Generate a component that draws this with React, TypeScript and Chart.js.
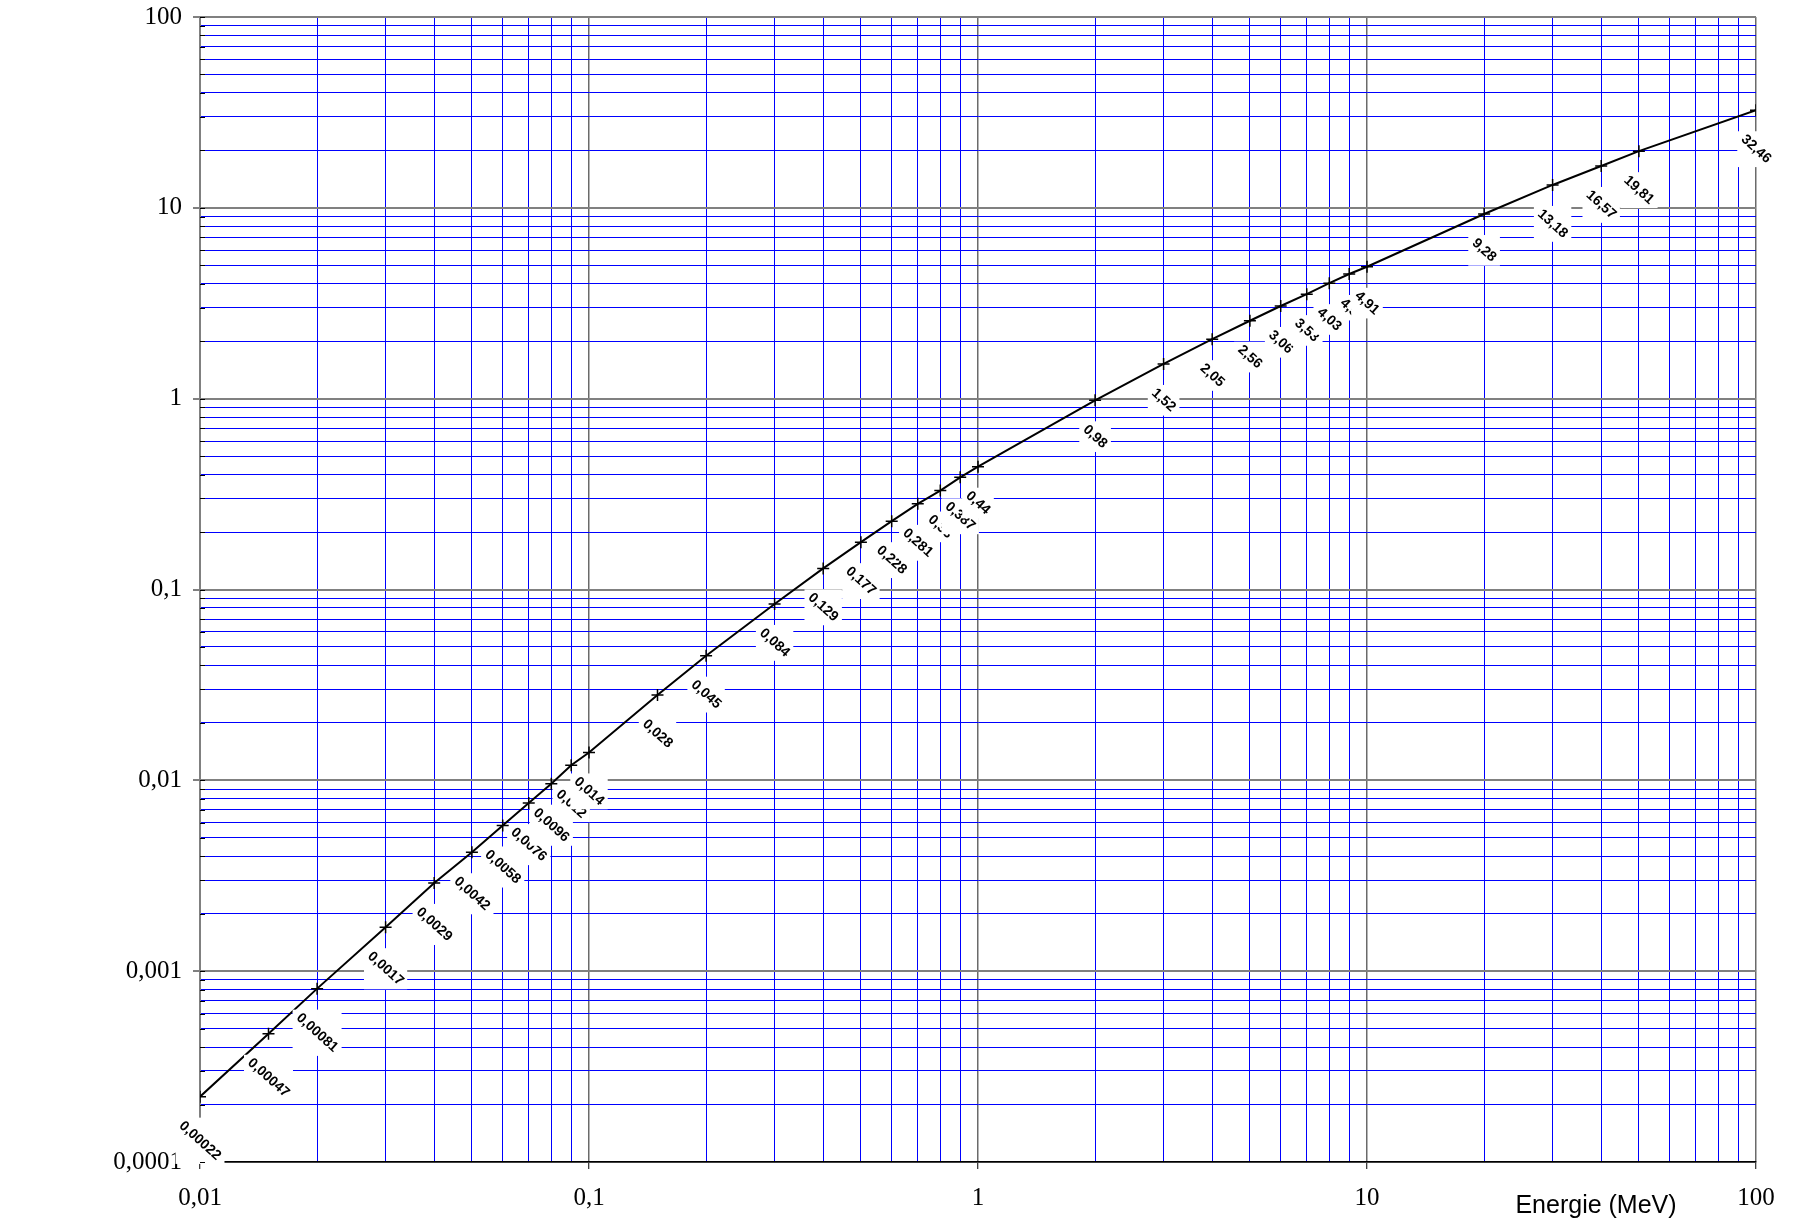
import React, { useEffect, useRef } from 'react';
import { Chart, registerables } from 'chart.js';

Chart.register(...registerables);

// Energy (MeV)
const energies = [
  0.01, 0.015, 0.02, 0.03, 0.04, 0.05, 0.06, 0.07, 0.08, 0.09,
  0.1, 0.15, 0.2, 0.3, 0.4, 0.5, 0.6, 0.7, 0.8, 0.9,
  1, 2, 3, 4, 5, 6, 7, 8, 9, 10,
  20, 30, 40, 50, 100,
];
// Range values
const ranges = [
  0.00022, 0.00047, 0.00081, 0.0017, 0.0029, 0.0042, 0.0058, 0.0076, 0.0096, 0.012,
  0.014, 0.028, 0.045, 0.084, 0.129, 0.177, 0.228, 0.281, 0.33, 0.387,
  0.44, 0.98, 1.52, 2.05, 2.56, 3.06, 3.53, 4.03, 4.5, 4.91,
  9.28, 13.18, 16.57, 19.81, 32.46,
];
const xTickLabels = ['0,01', '0,1', '1', '10', '100'];
const yTickLabels = ['0,0001', '0,001', '0,01', '0,1', '1', '10', '100'];
const axisTitle = 'Energie (MeV)';

const X_MIN = 0.01, X_MAX = 100, Y_MIN = 0.0001, Y_MAX = 100;

function isMajor(v: number) {
  const l = Math.log10(v);
  return Math.abs(l - Math.round(l)) < 1e-6;
}
function logTicks(min: number, max: number) {
  const out: { value: number }[] = [];
  const d0 = Math.round(Math.log10(min));
  const d1 = Math.round(Math.log10(max));
  for (let d = d0; d < d1; d++) {
    for (let k = 1; k <= 9; k++) out.push({ value: Number((k * Math.pow(10, d)).toPrecision(10)) });
  }
  out.push({ value: max });
  return out;
}
const fmt = (v: number) => String(v).replace('.', ',');

const labelPlugin = {
  id: 'pointValueLabels',
  afterDatasetDraw(chart: any, args: any) {
    if (args.index !== 1) return;
    const ctx = chart.ctx;
    const meta = chart.getDatasetMeta(1);
    const theta = (42 * Math.PI) / 180;
    const fs = 14;
    ctx.save();
    ctx.font = `bold ${fs}px "Liberation Sans", Arial, sans-serif`;
    meta.data.forEach((pt: any, i: number) => {
      const text = fmt(ranges[i]);
      const w = ctx.measureText(text).width;
      const bw = w * Math.cos(theta) + fs * Math.sin(theta) + 2;
      const bh = w * Math.sin(theta) + fs * Math.cos(theta) + 2;
      const left = pt.x - bw / 2;
      const top = pt.y + 21;
      ctx.fillStyle = '#ffffff';
      ctx.fillRect(left, top, bw, bh);
      ctx.save();
      ctx.translate(pt.x, top + bh / 2);
      ctx.rotate(theta);
      ctx.fillStyle = '#000000';
      ctx.textAlign = 'center';
      ctx.textBaseline = 'middle';
      ctx.fillText(text, 0, 0);
      ctx.restore();
    });
    ctx.restore();
  },
};

const decorPlugin = {
  id: 'decor',
  afterDraw(chart: any) {
    const ctx = chart.ctx;
    const ys = chart.scales.y;
    const area = chart.chartArea;
    ctx.save();
    ctx.strokeStyle = '#000000';
    ctx.lineWidth = 1;
    ys.ticks.forEach((t: any) => {
      const y = Math.round(ys.getPixelForValue(t.value)) + 0.5;
      ctx.beginPath();
      ctx.moveTo(area.left, y);
      ctx.lineTo(area.left + 5, y);
      ctx.stroke();
    });
    ctx.fillStyle = '#000000';
    ctx.font = '25px "Liberation Sans", Arial, sans-serif';
    ctx.textAlign = 'center';
    ctx.textBaseline = 'middle';
    ctx.fillText(axisTitle, 1596, 1206);
    ctx.restore();
  },
};

export default function App() {
  const ref = useRef<HTMLCanvasElement | null>(null);

  useEffect(() => {
    if (!ref.current) return;
    const points = energies.map((e, i) => ({ x: e, y: ranges[i] }));
    const chart = new Chart(ref.current, {
      type: 'line',
      data: {
        datasets: [
          {
            data: points,
            showLine: false,
            pointStyle: 'cross',
            pointRadius: 6,
            pointBorderWidth: 1.5,
            pointBorderColor: '#000000',
            pointBackgroundColor: '#000000',
            order: 1,
          } as any,
          {
            data: points,
            borderColor: '#000000',
            borderWidth: 2,
            pointRadius: 0,
            fill: false,
            tension: 0,
            order: 2,
          } as any,
        ],
      },
      options: {
        animation: false,
        responsive: false,
        devicePixelRatio: 1,
        layout: { padding: { top: 17, right: 40, left: 0, bottom: 0 } },
        plugins: { legend: { display: false }, tooltip: { enabled: false } },
        scales: {
          x: {
            type: 'logarithmic',
            min: X_MIN,
            max: X_MAX,
            afterBuildTicks: (s: any) => { s.ticks = logTicks(X_MIN, X_MAX); },
            afterFit: (s: any) => { s.height = 62; s.paddingLeft = 0; s.paddingRight = 0; },
            border: { color: '#000000', width: 1.5 },
            grid: {
              color: (c: any) => (c.tick && isMajor(c.tick.value) ? '#6a6a6a' : '#0000ff'),
              lineWidth: (c: any) => (c.tick && isMajor(c.tick.value) ? 1.5 : 1),
              tickColor: (c: any) => (c.tick && isMajor(c.tick.value) ? '#000000' : 'rgba(0,0,0,0)'),
              tickLength: 7,
              tickWidth: 1,
            },
            ticks: {
              autoSkip: false,
              maxRotation: 0,
              minRotation: 0,
              padding: 14,
              color: '#000000',
              font: { family: '"Liberation Serif", "Times New Roman", serif', size: 25 },
              callback: (v: any) => {
                const n = Number(v);
                if (!isMajor(n)) return '';
                return xTickLabels[Math.round(Math.log10(n)) + 2];
              },
            },
          },
          y: {
            type: 'logarithmic',
            min: Y_MIN,
            max: Y_MAX,
            afterBuildTicks: (s: any) => { s.ticks = logTicks(Y_MIN, Y_MAX); },
            afterFit: (s: any) => { s.width = 200; s.paddingTop = 0; s.paddingBottom = 0; },
            border: { color: '#808080', width: 2 },
            grid: {
              color: (c: any) => (c.tick && isMajor(c.tick.value) ? '#808080' : '#0000ff'),
              lineWidth: (c: any) => (c.tick && isMajor(c.tick.value) ? 2 : 1),
              tickColor: (c: any) => (c.tick && isMajor(c.tick.value) ? '#000000' : 'rgba(0,0,0,0)'),
              tickLength: 7,
              tickWidth: 1,
            },
            ticks: {
              autoSkip: false,
              padding: 11,
              color: '#000000',
              font: { family: '"Liberation Serif", "Times New Roman", serif', size: 25 },
              callback: (v: any) => {
                const n = Number(v);
                if (!isMajor(n)) return '';
                return yTickLabels[Math.round(Math.log10(n)) + 4];
              },
            },
          },
        },
      },
      plugins: [labelPlugin, decorPlugin],
    } as any);
    return () => chart.destroy();
  }, []);

  return (
    <div style={{ position: 'absolute', left: 0, top: 0, width: 1796, height: 1224, background: '#ffffff' }}>
      <canvas ref={ref} width={1796} height={1224} style={{ width: 1796, height: 1224, display: 'block' }} />
    </div>
  );
}
